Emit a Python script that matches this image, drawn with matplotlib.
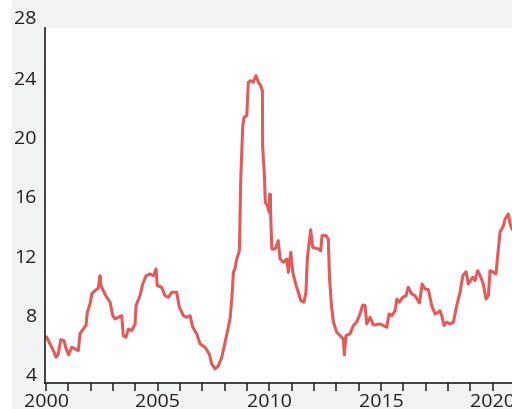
import matplotlib
matplotlib.use("Agg")
import matplotlib.pyplot as plt
from matplotlib.patches import Rectangle
from matplotlib.ticker import MultipleLocator

# Data (decimal year, value)
years = [
    2000.03, 2000.18, 2000.33, 2000.45, 2000.55, 2000.66, 2000.81, 2000.90, 2001.02, 2001.15,
    2001.30, 2001.45, 2001.52, 2001.67, 2001.79, 2001.85, 2001.97, 2002.05, 2002.19, 2002.34,
    2002.42, 2002.46, 2002.60, 2002.72, 2002.87, 2002.99, 2003.09, 2003.24, 2003.39, 2003.46,
    2003.58, 2003.69, 2003.84, 2003.99, 2004.03, 2004.21, 2004.33, 2004.48, 2004.66, 2004.81,
    2004.93, 2004.98, 2005.18, 2005.33, 2005.48, 2005.63, 2005.85, 2005.97, 2006.15, 2006.30,
    2006.45, 2006.57, 2006.75, 2006.90, 2007.12, 2007.31, 2007.42, 2007.57, 2007.72, 2007.87,
    2008.02, 2008.16, 2008.24, 2008.32, 2008.39, 2008.46, 2008.54, 2008.66, 2008.72, 2008.81,
    2008.87, 2008.99, 2009.06, 2009.17, 2009.28, 2009.40, 2009.51, 2009.61, 2009.69, 2009.70,
    2009.78, 2009.82, 2009.91, 2010.00, 2010.03, 2010.11, 2010.26, 2010.40, 2010.48, 2010.63,
    2010.78, 2010.85, 2010.96, 2011.05, 2011.20, 2011.30, 2011.41, 2011.55, 2011.64, 2011.70,
    2011.85, 2011.94, 2012.19, 2012.30, 2012.36, 2012.54, 2012.64, 2012.69, 2012.78, 2012.87,
    2013.02, 2013.17, 2013.31, 2013.36, 2013.43, 2013.61, 2013.76, 2013.91, 2014.06, 2014.18,
    2014.29, 2014.36, 2014.51, 2014.66, 2014.96, 2015.26, 2015.36, 2015.48, 2015.63, 2015.71,
    2015.82, 2015.97, 2016.12, 2016.22, 2016.38, 2016.52, 2016.72, 2016.84, 2016.97, 2017.12,
    2017.27, 2017.42, 2017.57, 2017.64, 2017.72, 2017.82, 2017.94, 2018.09, 2018.24, 2018.39,
    2018.54, 2018.66, 2018.81, 2018.91, 2019.11, 2019.21, 2019.33, 2019.44, 2019.58, 2019.70,
    2019.81, 2019.88, 2020.03, 2020.15, 2020.21, 2020.33, 2020.48, 2020.56, 2020.70, 2020.78,
    2020.87,
]
values = [
    6.41, 5.96, 5.51, 5.06, 5.28, 6.25, 6.18, 5.62, 5.22, 5.74,
    5.62, 5.51, 6.64, 6.97, 7.20, 8.10, 8.66, 9.34, 9.56, 9.72,
    10.57, 9.90, 9.45, 9.11, 8.78, 7.87, 7.65, 7.76, 7.87, 6.52,
    6.41, 6.97, 6.86, 7.31, 8.55, 9.22, 10.01, 10.57, 10.69, 10.57,
    11.03, 9.90, 9.79, 9.22, 9.11, 9.45, 9.45, 8.44, 7.87, 7.76,
    7.87, 7.09, 6.64, 5.96, 5.74, 5.28, 4.61, 4.27, 4.49, 5.06,
    6.07, 7.09, 7.65, 9.00, 10.80, 11.03, 11.70, 12.26, 17.11, 20.71,
    21.28, 21.39, 23.64, 23.75, 23.64, 24.09, 23.64, 23.41, 23.07, 19.36,
    17.33, 15.53, 15.30, 14.86, 16.09, 12.38, 12.38, 12.94, 11.70, 11.48,
    11.70, 10.80, 12.16, 10.80, 9.90, 9.45, 8.89, 8.78, 9.45, 11.70,
    13.68, 12.49, 12.38, 12.26, 13.28, 13.28, 13.05, 10.57, 8.55, 7.43,
    6.75, 6.52, 6.30, 5.22, 6.52, 6.64, 7.20, 7.43, 7.99, 8.59,
    8.55, 7.31, 7.76, 7.24, 7.31, 7.09, 7.99, 7.87, 8.21, 9.00,
    8.78, 9.11, 9.22, 9.79, 9.34, 9.22, 8.73, 10.01, 9.68, 9.63,
    8.55, 7.99, 8.10, 8.21, 7.87, 7.20, 7.43, 7.31, 7.43, 8.55,
    9.45, 10.57, 10.84, 10.01, 10.47, 10.24, 10.91, 10.57, 10.01, 9.00,
    9.22, 10.91, 10.80, 10.69, 11.70, 13.51, 13.95, 14.41, 14.74, 14.07,
    13.73,
]
y_ticks = [4, 8, 12, 16, 20, 24]
x_major = [2000, 2005, 2010, 2015, 2020]

FONT = ["Open Sans", "DejaVu Sans"]
TEXT = "#231f20"
FS = 14

fig = plt.figure(figsize=(5.12, 4.10), dpi=100, facecolor="white")
fig.patches.append(Rectangle((12 / 512, 0), 1, 1, transform=fig.transFigure,
                             facecolor="#f2f3f5", edgecolor="none", zorder=-10))

ax = fig.add_axes([45 / 512, 26 / 410, (515 - 45) / 512, 355 / 410])
ax.set_facecolor("white")
ax.plot(years, values, color="#e35a5a", lw=2.2, solid_joinstyle="round", clip_on=False)

ax.set_xlim(2000 - 1 / 22.33, 2021.0)
ax.set_ylim(3.32, 27.31)

ax.set_yticks(y_ticks)
ax.set_yticklabels([str(v) for v in y_ticks])
ax.set_xticks(x_major)
ax.set_xticklabels([str(v) for v in x_major])
ax.xaxis.set_minor_locator(MultipleLocator(1))

for s in ["top", "right"]:
    ax.spines[s].set_visible(False)
for s in ["left", "bottom"]:
    ax.spines[s].set_color(TEXT)
    ax.spines[s].set_linewidth(1.2)

ax.tick_params(axis="y", length=0, pad=6, labelsize=FS, labelcolor=TEXT)
ax.tick_params(axis="x", which="both", length=6, width=1.1, color=TEXT,
               pad=0.5, labelsize=FS, labelcolor=TEXT)
for lab in ax.get_xticklabels() + ax.get_yticklabels():
    lab.set_family(FONT)
    lab.set_fontweight("medium")

# the top tick label sits above the plotting area
ax.text(-8.5 / 470, 28, "28", transform=ax.get_yaxis_transform(),
        ha="right", va="center", fontsize=FS, color=TEXT, family=FONT,
        fontweight="medium", clip_on=False)

fig.savefig("out.png", dpi=100, facecolor=fig.get_facecolor())
